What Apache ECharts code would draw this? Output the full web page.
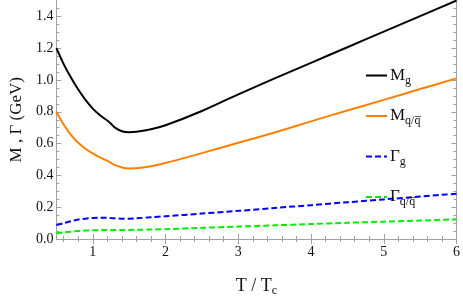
<!DOCTYPE html>
<html><head><meta charset="utf-8">
<script src="https://cdn.jsdelivr.net/npm/echarts@6/dist/echarts.min.js"></script>
<style>html,body{margin:0;padding:0;background:#fff}#c{width:463px;height:302px}</style>
</head><body><div id="c"></div>
<script>
var T = [0.5,0.6,0.7,0.8,0.9,1.0,1.1,1.2,1.25,1.3,1.4,1.5,1.6,1.8,2.0,2.5,3.0,3.5,4.0,4.5,5.0,5.5,6.0];
var Mg  = [1.20,1.10,1.015,0.94,0.875,0.82,0.778,0.745,0.725,0.702,0.678,0.672,0.675,0.69,0.715,0.805,0.91,1.01,1.108,1.206,1.304,1.402,1.50];
var Mq  = [0.80,0.72,0.655,0.605,0.568,0.538,0.513,0.492,0.479,0.466,0.45,0.444,0.445,0.458,0.478,0.54,0.605,0.67,0.74,0.808,0.875,0.943,1.01];
var Gg  = [0.088,0.10,0.112,0.122,0.128,0.132,0.134,0.133,0.1315,0.13,0.128,0.128,0.13,0.137,0.143,0.16,0.177,0.195,0.213,0.231,0.249,0.267,0.285];
var Gq  = [0.036,0.041,0.046,0.05,0.053,0.055,0.056,0.0565,0.0567,0.057,0.057,0.057,0.058,0.06,0.062,0.07,0.078,0.086,0.094,0.102,0.109,0.116,0.124];
var xMajor = [1,2,3,4,5,6];
var xMinor = [0.6,0.8,1.2,1.4,1.6,1.8,2.2,2.4,2.6,2.8,3.2,3.4,3.6,3.8,4.2,4.4,4.6,4.8,5.2,5.4,5.6,5.8];
var yMajor = [0,0.2,0.4,0.6,0.8,1.0,1.2,1.4];
var yMinor = [0.05,0.1,0.15,0.25,0.3,0.35,0.45,0.5,0.55,0.65,0.7,0.75,0.85,0.9,0.95,1.05,1.1,1.15,1.25,1.3,1.35,1.45];
var names = ['Mg','Mq','Gg','Gq'];
var legendText = {Mg:'{m|M}{s|g}', Mq:'{m|M}{s|q/q\u0305}', Gg:'{m|\u0393}{s|g}', Gq:'{m|\u0393}{s|q/q\u0305}'};

function pairs(ys){ return T.map(function(t,i){return [t, ys[i]];}); }
var font = 'Liberation Serif';
var gray = '#a0a0a0';
function xAx(pos, vals, len, labels, main){
  return {type:'value', position:pos, min:0.5, max:6,
    axisLine:{show:main, lineStyle:{color:gray, width:1}},
    axisTick:{show:true, inside:true, length:len, customValues:vals, lineStyle:{color:gray}},
    axisLabel:{show:labels, customValues:xMajor, color:'#111', fontFamily:font, fontSize:14, margin:6,
      formatter:function(v){return String(v);}},
    splitLine:{show:false}};
}
function yAx(pos, vals, len, labels, main){
  return {type:'value', position:pos, min:0, max:1.5,
    axisLine:{show:main, lineStyle:{color:gray, width:1}},
    axisTick:{show:true, inside:true, length:len, customValues:vals, lineStyle:{color:gray}},
    axisLabel:{show:labels, customValues:yMajor, color:'#111', fontFamily:font, fontSize:14, margin:3,
      formatter:function(v){return v.toFixed(1);}},
    splitLine:{show:false}};
}
var xa0 = xAx('bottom', xMajor, 5, true, true);
xa0.name = '{a|T / T}{b|c}'; xa0.nameLocation='middle'; xa0.nameGap=36;
xa0.nameTextStyle = {rich:{a:{fontFamily:font,fontSize:18,color:'#111'},b:{fontFamily:font,fontSize:12,color:'#111',padding:[10,0,0,0]}}};
var ya0 = yAx('left', yMajor, 5, true, true);
ya0.name = 'M , \u0393 (GeV)'; ya0.nameLocation='middle'; ya0.nameGap=30;
ya0.nameTextStyle = {fontFamily:font, fontSize:17, color:'#111'};

var colors = {Mg:'#000000', Mq:'#ff8000', Gg:'#0000ff', Gq:'#00ee00'};
var dataMap = {Mg:Mg, Mq:Mq, Gg:Gg, Gq:Gq};
var series = names.map(function(n){
  var dashed = (n==='Gg'||n==='Gq');
  return {name:n, type:'line', xAxisIndex:0, yAxisIndex:0, data:pairs(dataMap[n]),
    smooth:0.3, symbol:'none', showSymbol:false,
    lineStyle:{color:colors[n], width:2, type: dashed ? [6,3] : 'solid'},
    itemStyle:{color:colors[n]}, z: 3};
});

var chart = echarts.init(document.getElementById('c'), null, {renderer:'canvas'});
chart.setOption({
  animation:false,
  grid:{left:52, right:4, top:0.5, bottom:52, containLabel:false},
  xAxis:[xa0, xAx('bottom', xMinor, 3, false, false), xAx('top', xMajor, 5, false, true), xAx('top', xMinor, 3, false, false)],
  yAxis:[ya0, yAx('left', yMinor, 3, false, false), yAx('right', yMajor, 5, false, true), yAx('right', yMinor, 3, false, false)],
  legend:{orient:'vertical', left:365, top:67, padding:0, itemWidth:21, itemHeight:14, itemGap:21,
    data:names, itemStyle:{opacity:0},
    formatter:function(n){return legendText[n];},
    textStyle:{padding:[0,0,0,-2], rich:{m:{fontFamily:font,fontSize:17,color:'#111'}, s:{fontFamily:font,fontSize:12,color:'#111',padding:[10,0,0,0]}}}},
  series:series
});
</script></body></html>
